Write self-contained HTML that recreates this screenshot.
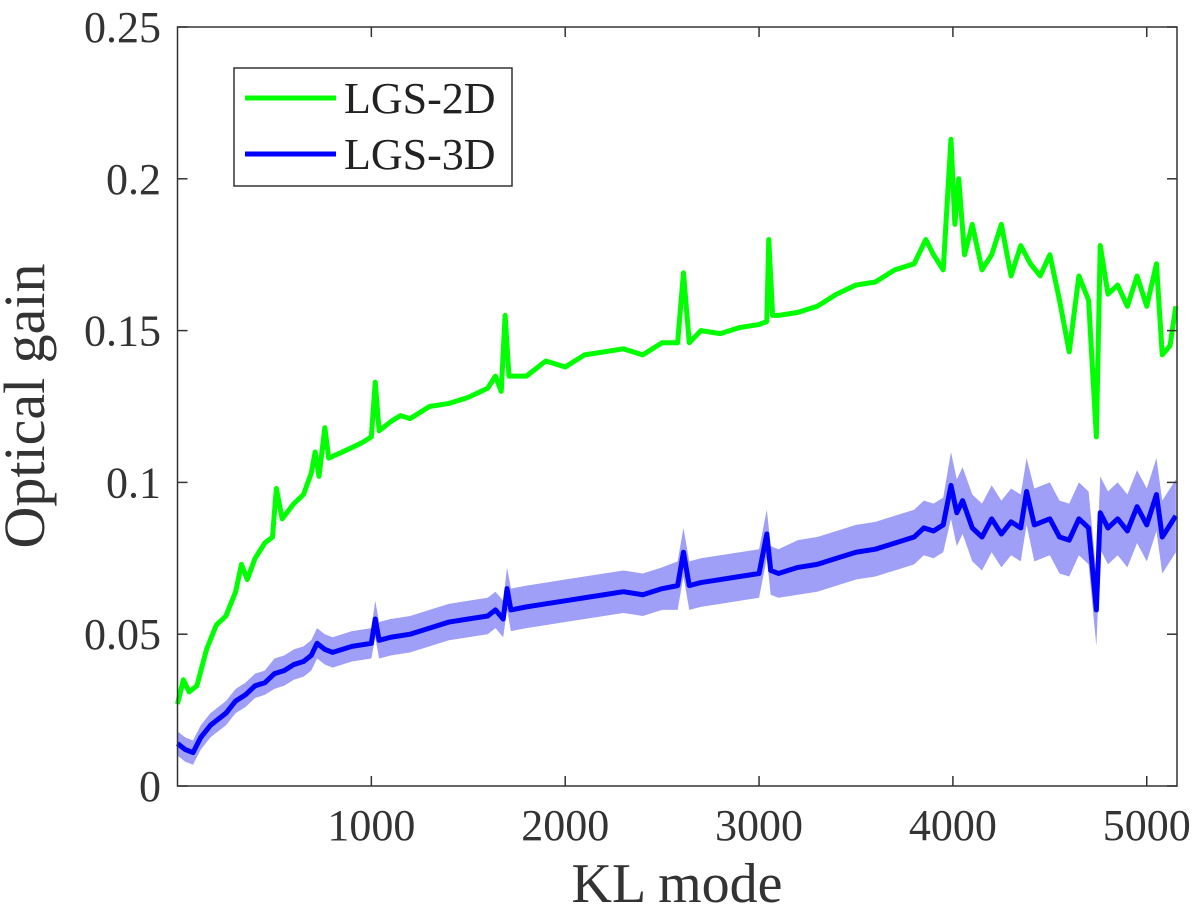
<!DOCTYPE html>
<html><head><meta charset="utf-8"><style>
html,body{margin:0;padding:0;background:#fff;}
svg{display:block;font-family:"Liberation Serif",serif;}
</style></head><body>
<svg id="chart" width="1200" height="917">
<g id="band"></g>
<g id="lines"></g>
<g id="axes"></g>
<g>
<rect x="234" y="68" width="278" height="118" fill="#fff" stroke="#333" stroke-width="1.5"/>
<line x1="245" y1="98" x2="336" y2="98" stroke="#00ff00" stroke-width="5"/>
<text x="344" y="113" font-size="44" fill="#222">LGS-2D</text>
<line x1="245" y1="154" x2="336" y2="154" stroke="#0000ff" stroke-width="5"/>
<text x="344" y="169" font-size="44" fill="#222">LGS-3D</text>
</g>
<text x="677" y="902" font-size="56" text-anchor="middle" fill="#333">KL mode</text>
<text transform="translate(44,406) rotate(-90)" font-size="58" text-anchor="middle" fill="#333">Optical gain</text>
</svg>
<script>
const xTicks=[1000,2000,3000,4000,5000];
const yTicks=[0,0.05,0.1,0.15,0.2,0.25];
const yTickLabels=["0","0.05","0.1","0.15","0.2","0.25"];
const g2x=[0,30,60,100,150,200,250,300,330,360,400,450,490,510,540,600,650,690,710,730,760,780,850,950,1000,1020,1040,1100,1150,1200,1300,1400,1500,1600,1640,1670,1690,1710,1800,1900,2000,2100,2200,2300,2400,2500,2580,2610,2640,2700,2800,2900,3000,3040,3050,3070,3100,3200,3300,3400,3500,3600,3700,3800,3860,3900,3950,3990,4010,4030,4060,4100,4150,4200,4250,4300,4350,4400,4450,4500,4550,4600,4650,4700,4740,4760,4800,4850,4900,4950,5000,5050,5080,5120,5150];
const g2y=[0.027,0.035,0.031,0.033,0.045,0.053,0.056,0.064,0.073,0.068,0.075,0.080,0.082,0.098,0.088,0.093,0.096,0.103,0.110,0.102,0.118,0.108,0.110,0.113,0.115,0.133,0.117,0.120,0.122,0.121,0.125,0.126,0.128,0.131,0.135,0.130,0.155,0.135,0.135,0.140,0.138,0.142,0.143,0.144,0.142,0.146,0.146,0.169,0.146,0.150,0.149,0.151,0.152,0.153,0.180,0.155,0.155,0.156,0.158,0.162,0.165,0.166,0.170,0.172,0.180,0.175,0.170,0.213,0.185,0.200,0.175,0.185,0.170,0.175,0.185,0.168,0.178,0.172,0.168,0.175,0.160,0.143,0.168,0.160,0.115,0.178,0.162,0.165,0.158,0.168,0.158,0.172,0.142,0.145,0.158];
const b3x=[0,40,80,120,170,250,300,350,400,450,500,550,600,650,690,720,760,800,900,1000,1020,1040,1100,1200,1300,1400,1500,1600,1640,1680,1700,1720,1800,1900,2000,2100,2200,2300,2400,2500,2580,2610,2640,2700,2800,2900,3000,3040,3060,3100,3200,3300,3400,3500,3600,3700,3800,3850,3900,3950,3990,4020,4050,4100,4150,4200,4250,4300,4350,4380,4420,4500,4550,4600,4650,4700,4740,4760,4800,4850,4900,4950,5000,5050,5080,5120,5150];
const b3y=[0.014,0.012,0.011,0.016,0.020,0.024,0.028,0.030,0.033,0.034,0.037,0.038,0.040,0.041,0.043,0.047,0.045,0.044,0.046,0.047,0.055,0.048,0.049,0.050,0.052,0.054,0.055,0.056,0.058,0.055,0.065,0.058,0.059,0.060,0.061,0.062,0.063,0.064,0.063,0.065,0.066,0.077,0.066,0.067,0.068,0.069,0.070,0.083,0.071,0.070,0.072,0.073,0.075,0.077,0.078,0.080,0.082,0.085,0.084,0.086,0.099,0.090,0.094,0.085,0.082,0.088,0.083,0.087,0.085,0.097,0.086,0.088,0.082,0.081,0.088,0.085,0.058,0.090,0.085,0.088,0.084,0.092,0.086,0.096,0.082,0.086,0.089];
const b3spread=[0.004,0.004,0.004,0.004,0.004,0.004,0.004,0.004,0.004,0.004,0.005,0.005,0.005,0.005,0.005,0.005,0.005,0.005,0.005,0.005,0.006,0.006,0.006,0.006,0.006,0.006,0.006,0.006,0.006,0.006,0.007,0.007,0.007,0.007,0.007,0.007,0.007,0.007,0.007,0.007,0.008,0.008,0.008,0.008,0.008,0.008,0.008,0.008,0.008,0.008,0.009,0.009,0.009,0.009,0.009,0.009,0.009,0.009,0.009,0.009,0.011,0.011,0.011,0.011,0.011,0.011,0.011,0.011,0.011,0.011,0.012,0.012,0.012,0.012,0.012,0.012,0.012,0.012,0.012,0.012,0.012,0.012,0.012,0.012,0.012,0.012,0.012];
const L=177.5,R=1177,T=27,B=786;
const XMIN=0,XMAX=5156,YMIN=0,YMAX=0.25;
const sx=v=>L+(v-XMIN)/(XMAX-XMIN)*(R-L);
const sy=v=>B-(v-YMIN)/(YMAX-YMIN)*(B-T);
const NS="http://www.w3.org/2000/svg";
function mk(tag,attrs,parent){const e=document.createElementNS(NS,tag);for(const k in attrs)e.setAttribute(k,attrs[k]);parent.appendChild(e);return e;}
let up=b3x.map((x,i)=>sx(x)+","+sy(b3y[i]+(b3spread[i]||0.008))).join(" ");
let dn=b3x.map((x,i)=>sx(x)+","+sy(b3y[i]-(b3spread[i]||0.008))).reverse().join(" ");
const band=mk("polygon",{points:up+" "+dn,fill:"#9f9ff7",stroke:"none"},document.getElementById("band"));


const lines=document.getElementById("lines");
const l2=mk("polyline",{points:g2x.map((x,i)=>sx(x)+","+sy(g2y[i])).join(" "),fill:"none",stroke:"#00ff00","stroke-width":5,"stroke-linejoin":"round"},lines);


const l3=mk("polyline",{points:b3x.map((x,i)=>sx(x)+","+sy(b3y[i])).join(" "),fill:"none",stroke:"#0000ff","stroke-width":5,"stroke-linejoin":"round"},lines);


const ax=document.getElementById("axes");
const fr=mk("rect",{x:L,y:T,width:R-L,height:B-T,fill:"none",stroke:"#333","stroke-width":1.5},ax);


xTicks.forEach(v=>{const x=sx(v);
mk("line",{x1:x,y1:B,x2:x,y2:B-10,stroke:"#333","stroke-width":1.5},ax);
mk("line",{x1:x,y1:T,x2:x,y2:T+10,stroke:"#333","stroke-width":1.5},ax);
const t=mk("text",{x:x,y:B+54,"font-size":44,"text-anchor":"middle",fill:"#333"},ax);t.textContent=v;

});
yTicks.forEach((v,i)=>{const y=sy(v);
mk("line",{x1:L,y1:y,x2:L+10,y2:y,stroke:"#333","stroke-width":1.5},ax);
mk("line",{x1:R,y1:y,x2:R-10,y2:y,stroke:"#333","stroke-width":1.5},ax);
const t=mk("text",{x:161,y:y+15,"font-size":44,"text-anchor":"end",fill:"#333"},ax);t.textContent=yTickLabels[i];

});
</script>
</body></html>
